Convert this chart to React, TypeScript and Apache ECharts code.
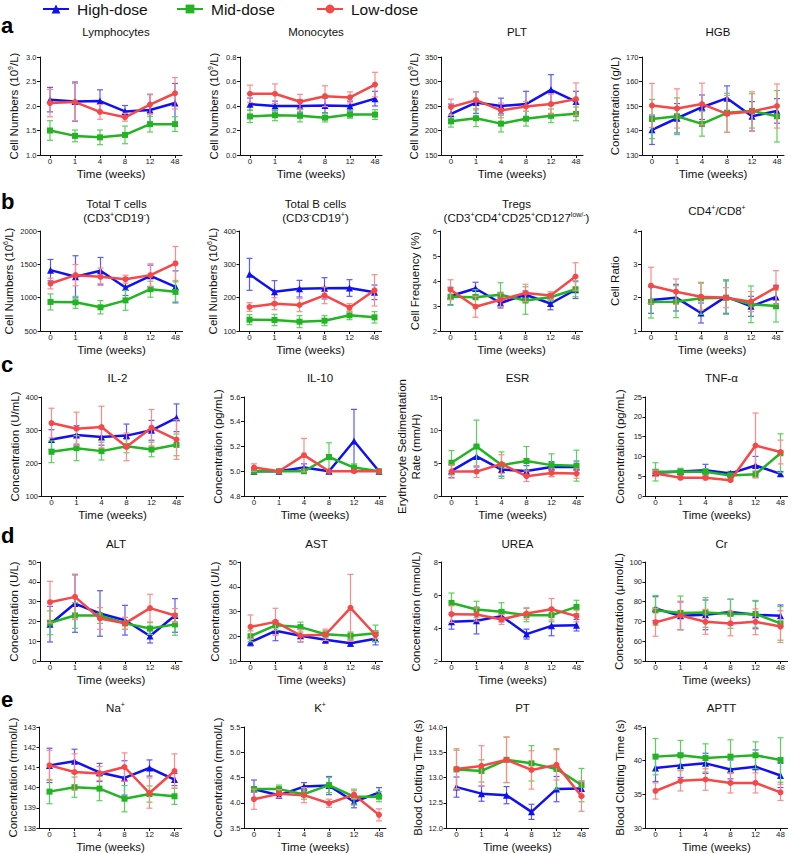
import React, { useEffect, useRef } from 'react';
import * as echarts from 'echarts';

const timeLabels = ['0', '1', '4', '8', '12', '48'];
const groups = ['High-dose', 'Mid-dose', 'Low-dose'];

// ---- Row a ----
const lymphocytesMean = [[2.13, 2.09, 2.10, 1.89, 1.92, 2.06], [1.50, 1.39, 1.36, 1.41, 1.63, 1.63], [2.06, 2.08, 1.88, 1.77, 2.03, 2.26]];
const lymphocytesSD = [[0.25, 0.40, 0.23, 0.12, 0.32, 0.40], [0.20, 0.12, 0.15, 0.18, 0.16, 0.15], [0.28, 0.38, 0.15, 0.08, 0.20, 0.32]];
const monocytesMean = [[0.415, 0.40, 0.40, 0.405, 0.40, 0.46], [0.315, 0.325, 0.32, 0.305, 0.33, 0.33], [0.50, 0.50, 0.435, 0.48, 0.47, 0.575]];
const monocytesSD = [[0.05, 0.04, 0.05, 0.06, 0.04, 0.06], [0.05, 0.045, 0.05, 0.035, 0.03, 0.04], [0.07, 0.08, 0.06, 0.085, 0.045, 0.10]];
const pltMean = [[234, 257, 250, 254, 283, 259], [219, 225, 214, 224, 230, 234], [248, 262, 241, 249, 254, 264]];
const pltSD = [[20, 22, 16, 26, 31, 21], [12, 17, 17, 15, 14, 14], [16, 17, 15, 10, 20, 33]];
const hgbMean = [[140.3, 145, 149.5, 153.2, 145.8, 148], [144.7, 145.8, 142.7, 147.2, 148, 145.8], [150.2, 149, 150.8, 146.8, 147.8, 150]];
const hgbSD = [[6, 6, 5, 5, 6, 5], [8, 7.5, 5, 8, 7, 10.5], [9, 8, 8.5, 7.5, 8, 9]];
// ---- Row b ----
const tCellsMean = [[1413, 1313, 1403, 1152, 1328, 1162], [936, 930, 856, 960, 1127, 1087], [1212, 1338, 1313, 1277, 1338, 1513]];
const tCellsSD = [[160, 316, 200, 120, 160, 240], [120, 90, 100, 150, 120, 150], [80, 160, 130, 60, 170, 255]];
const bCellsMean = [[270, 218, 227, 228, 229, 216], [134, 133, 128, 131, 147, 141], [172, 182, 178, 207, 170, 222]];
const bCellsSD = [[48, 33, 25, 32, 25, 22], [15, 17, 18, 15, 13, 17], [13, 18, 20, 25, 12, 47]];
const tregsMean = [[3.40, 3.70, 3.12, 3.45, 3.10, 3.65], [3.37, 3.35, 3.45, 3.22, 3.35, 3.67], [3.65, 2.97, 3.25, 3.52, 3.42, 4.18]];
const tregsSD = [[0.35, 0.25, 0.20, 0.15, 0.25, 0.35], [0.35, 0.30, 0.48, 0.55, 0.15, 0.30], [0.40, 0.42, 0.27, 0.35, 0.15, 0.55]];
const cd4cd8Mean = [[1.93, 2.00, 1.54, 2.03, 1.74, 2.02], [1.87, 1.88, 1.98, 2.00, 1.80, 1.75], [2.36, 2.18, 2.03, 2.00, 1.88, 2.31]];
const cd4cd8SD = [[0.40, 0.40, 0.30, 0.50, 0.30, 0.35], [0.48, 0.48, 0.48, 0.50, 0.55, 0.48], [0.55, 0.38, 0.40, 0.30, 0.30, 0.50]];
// ---- Row c ----
const il2Mean = [[271, 285, 279, 283, 299, 337], [234, 245, 236, 251, 241, 255], [321, 304, 309, 249, 307, 271]];
const il2SD = [[30, 28, 25, 35, 30, 42], [33, 38, 27, 20, 22, 33], [45, 50, 63, 42, 55, 60]];
const il10Mean = [[5.0, 5.0, 5.03, 5.0, 5.245, 5.0], [5.0, 5.0, 5.0, 5.115, 5.03, 5.0], [5.03, 5.0, 5.13, 5.0, 5.0, 5.0]];
const il10SD = [[0, 0, 0.03, 0, 0.255, 0], [0, 0, 0, 0.115, 0.03, 0], [0.03, 0, 0.135, 0, 0, 0]];
const esrMean = [[3.8, 6.0, 4.0, 3.8, 4.4, 4.4], [5.04, 7.5, 4.68, 5.3, 4.68, 4.6], [3.7, 3.7, 4.85, 3.0, 3.5, 3.4]];
const esrSD = [[1.0, 1.6, 1.0, 0.8, 0.8, 0.9], [1.85, 4.0, 2.0, 2.2, 1.7, 2.35], [1.0, 0.9, 1.4, 0.8, 0.6, 0.7]];
const tnfMean = [[5.9, 6.2, 6.5, 5.7, 7.7, 5.6], [6.1, 6.1, 6.1, 5.2, 5.5, 10.8], [5.7, 4.6, 4.6, 4.0, 12.75, 11.1]];
const tnfSD = [[0.8, 0.6, 1.5, 0.5, 2.3, 0.6], [2.3, 0.9, 0.8, 0.5, 0.8, 4.9], [0.8, 0.4, 0.5, 0.2, 8.2, 3.0]];
// ---- Row d ----
const altMean = [[18.6, 29, 24, 20.6, 12.6, 23], [19.3, 23, 23, 19, 16.4, 18.5], [29.7, 32.4, 21.5, 19, 26.7, 23]];
const altSD = [[9, 14.5, 11.5, 7.5, 3.5, 8.5], [6, 6.5, 4, 3, 3, 5.5], [10.5, 11.5, 5.5, 3, 7, 3.5]];
const astMean = [[17.6, 22.2, 20.2, 18.6, 17.2, 19.0], [20.0, 24.4, 23.7, 20.8, 20.2, 21.2], [23.8, 25.8, 20.3, 20.6, 31.5, 20.5]];
const astSD = [[1.5, 4.0, 2.5, 1.5, 1.3, 2.5], [2.2, 2.0, 2.0, 1.5, 1.5, 3.3], [4.8, 5.5, 2.5, 2.3, 13.5, 1.5]];
const ureaMean = [[4.38, 4.44, 4.72, 3.63, 4.13, 4.17], [5.52, 5.12, 4.98, 4.78, 4.78, 5.28], [4.84, 4.82, 4.52, 4.88, 5.14, 4.72]];
const ureaSD = [[0.45, 0.8, 0.35, 0.3, 0.6, 0.35], [0.6, 0.5, 0.55, 0.4, 0.4, 0.4], [0.5, 0.4, 0.3, 0.35, 0.65, 0.35]];
const crMean = [[76.5, 72.8, 73.3, 74.7, 73.3, 72.8], [75.6, 74.3, 74.5, 73.8, 73.8, 69.0], [69.5, 73.0, 69.8, 69.0, 69.8, 67.4]];
const crSD = [[6, 7, 7.5, 6.5, 7, 5.5], [7.5, 8.5, 7.5, 7.3, 6.8, 8.5], [7, 7.2, 6.3, 6.3, 6.5, 8]];
// ---- Row e ----
const naMean = [[141.1, 141.3, 140.75, 140.48, 140.97, 140.4], [139.8, 140.02, 139.95, 139.45, 139.68, 139.57], [141.1, 140.77, 140.7, 141.02, 139.73, 140.82]];
const naSD = [[0.85, 0.6, 0.45, 0.85, 0.4, 0.3], [0.6, 0.5, 0.6, 0.65, 0.4, 0.4], [0.75, 0.9, 0.35, 0.7, 0.75, 0.85]];
const kMean = [[4.27, 4.15, 4.32, 4.34, 4.02, 4.2], [4.27, 4.27, 4.17, 4.35, 4.12, 4.12], [4.07, 4.18, 4.15, 3.99, 4.16, 3.76]];
const kSD = [[0.18, 0.05, 0.08, 0.18, 0.12, 0.1], [0.05, 0.08, 0.1, 0.15, 0.15, 0.1], [0.2, 0.08, 0.15, 0.08, 0.08, 0.12]];
const ptMean = [[12.81, 12.68, 12.65, 12.32, 12.77, 12.78], [13.16, 13.13, 13.35, 13.28, 13.17, 12.85], [13.17, 13.23, 13.35, 13.15, 13.25, 12.63]];
const ptSD = [[0.2, 0.15, 0.17, 0.15, 0.25, 0.15], [0.38, 0.22, 0.45, 0.35, 0.4, 0.33], [0.4, 0.4, 0.45, 0.38, 0.3, 0.3]];
const apttMean = [[38.9, 39.3, 39.6, 38.7, 39.1, 37.8], [40.6, 40.8, 40.4, 40.6, 40.8, 40.1], [35.5, 37.0, 37.2, 36.7, 36.7, 35.3]];
const apttSD = [[2.0, 1.8, 1.5, 1.4, 2.5, 1.8], [2.7, 2.2, 2.1, 2.5, 2.0, 3.3], [1.2, 1.5, 1.6, 1.5, 1.5, 1.2]];

const panelTitles = [
  'Lymphocytes', 'Monocytes', 'PLT', 'HGB',
  'Total T cells\n(CD3{sup|+}CD19{sup|-})', 'Total B cells\n(CD3{sup|-}CD19{sup|+})', 'Tregs\n(CD3{sup|+}CD4{sup|+}CD25{sup|+}CD127{sup|low/-})', 'CD4{sup|+}/CD8{sup|+}',
  'IL-2', 'IL-10', 'ESR', 'TNF-α',
  'ALT', 'AST', 'UREA', 'Cr',
  'Na{sup|+}', 'K{sup|+}', 'PT', 'APTT',
];
const yNames = [
  'Cell Numbers (10{sup|9}/L)', 'Cell Numbers (10{sup|9}/L)', 'Cell Numbers (10{sup|9}/L)', 'Concentration (g/L)',
  'Cell Numbers (10{sup|6}/L)', 'Cell Numbers (10{sup|6}/L)', 'Cell Frequency (%)', 'Cell Ratio',
  'Concentration (U/mL)', 'Concentration (pg/mL)', 'Erythrocyte Sedimentation\nRate (mm/H)', 'Concentration (pg/mL)',
  'Concentration (U/L)', 'Concentration (U/L)', 'Concentration (mmol/L)', 'Concentration (μmol/L)',
  'Concentration (mmol/L)', 'Concentration (mmol/L)', 'Blood Clotting Time (s)', 'Blood Clotting Time (s)',
];
// y axis: [min, max, interval, decimals]
const yScales = [
  [1, 3, 0.5, 1], [0, 0.8, 0.2, 1], [150, 350, 50, 0], [130, 170, 10, 0],
  [500, 2000, 500, 0], [100, 400, 100, 0], [2, 6, 1, 0], [1, 4, 1, 0],
  [100, 400, 100, 0], [4.8, 5.6, 0.2, 1], [0, 15, 5, 0], [0, 25, 5, 0],
  [0, 50, 10, 0], [10, 50, 10, 0], [2, 8, 2, 0], [50, 100, 10, 0],
  [138, 143, 1, 0], [3.5, 5.5, 0.5, 1], [12, 14, 0.5, 1], [30, 45, 5, 0],
];
const means = [lymphocytesMean, monocytesMean, pltMean, hgbMean, tCellsMean, bCellsMean, tregsMean, cd4cd8Mean, il2Mean, il10Mean, esrMean, tnfMean, altMean, astMean, ureaMean, crMean, naMean, kMean, ptMean, apttMean];
const sds = [lymphocytesSD, monocytesSD, pltSD, hgbSD, tCellsSD, bCellsSD, tregsSD, cd4cd8SD, il2SD, il10SD, esrSD, tnfSD, altSD, astSD, ureaSD, crSD, naSD, kSD, ptSD, apttSD];
const rowLetters = ['a', 'b', 'c', 'd', 'e'];

// layout
const FONT = '"Liberation Sans", Arial, Helvetica, sans-serif';
const rowTop = [57, 231, 397, 562, 727];
const rowH = [98, 100, 99, 99, 101];
const axisX = [
  [40, 240, 441, 642],
  [40.5, 239.5, 440.5, 641],
  [41.5, 244, 441.5, 645.5],
  [40, 240.5, 441.5, 645.5],
  [39.5, 244, 446.5, 645.5],
];
const titleY = [32, 211, 378, 544, 708];
const letterY = [25, 201, 364, 535, 699];
const PLOT_W = 142;
const STEP = 25;
const X_MIN = -10 / STEP;
const X_MAX = (PLOT_W - 10) / STEP;
const lineColors = ['#1010f2', '#22b422', '#f54848'];
const errColors = ['#5a5aff', '#5cd05c', '#ff8a8a'];
const symbols = ['triangle', 'rect', 'circle'];
const symbolSizes = [7, 6, 6];
const TXT = '#111';

const supRich = { sup: { fontSize: 7, fontFamily: FONT, fontWeight: 'normal', color: TXT, fill: TXT, verticalAlign: 'top' } };

const makeErr = (color: string) => (params: any, api: any) => {
  const x = api.value(0);
  const m = api.value(1);
  const e = api.value(2);
  if (!e) return { type: 'group', children: [] };
  const hi = api.coord([x, m + e]);
  const lo = api.coord([x, m - e]);
  const w = 3;
  const style = { stroke: color, lineWidth: 1.2, fill: 'none' };
  return {
    type: 'group',
    children: [
      { type: 'line', shape: { x1: hi[0], y1: hi[1], x2: lo[0], y2: lo[1] }, style },
      { type: 'line', shape: { x1: hi[0] - w, y1: hi[1], x2: hi[0] + w, y2: hi[1] }, style },
      { type: 'line', shape: { x1: lo[0] - w, y1: lo[1], x2: lo[0] + w, y2: lo[1] }, style },
    ],
  };
};

function buildOption() {
  const grid: any[] = [];
  const xAxis: any[] = [];
  const yAxis: any[] = [];
  const series: any[] = [];
  const graphic: any[] = [];
  const ticks = [0, 1, 2, 3, 4, 5];

  for (let k = 0; k < 20; k++) {
    const r = Math.floor(k / 4);
    const c = k % 4;
    const left = axisX[r][c];
    const [ymin, ymax, yint, dec] = yScales[k];
    grid.push({ left, top: rowTop[r], width: PLOT_W, height: rowH[r] });
    xAxis.push({
      type: 'value', gridIndex: k, min: X_MIN, max: X_MAX,
      name: 'Time (weeks)', nameLocation: 'middle', nameGap: 13,
      nameTextStyle: { fontFamily: FONT, fontSize: 11.5, fontWeight: 'normal', color: TXT },
      axisLine: { onZero: false, lineStyle: { color: TXT, width: 1 } },
      axisTick: { show: true, length: 3, customValues: ticks, lineStyle: { color: TXT } },
      axisLabel: { customValues: ticks, formatter: (v: number) => timeLabels[Math.round(v)], fontSize: 8, margin: 2.5, color: '#222', fontFamily: FONT },
      splitLine: { show: false },
    });
    yAxis.push({
      type: 'value', gridIndex: k, min: ymin, max: ymax, interval: yint,
      name: yNames[k], nameLocation: 'middle', nameGap: 19,
      nameTextStyle: { fontFamily: FONT, fontSize: 11.5, fontWeight: 'normal', color: TXT, lineHeight: 14, rich: supRich },
      axisLine: { show: true, onZero: false, lineStyle: { color: TXT, width: 1 } },
      axisTick: { show: true, length: 3, lineStyle: { color: TXT } },
      axisLabel: { formatter: (v: number) => v.toFixed(dec), fontSize: 7.5, margin: 3.5, color: '#222', fontFamily: FONT },
      splitLine: { show: false },
    });
    for (let g = 0; g < 3; g++) {
      series.push({
        type: 'custom', name: 'err-' + groups[g], xAxisIndex: k, yAxisIndex: k,
        data: means[k][g].map((m, i) => [i, m, sds[k][g][i]]),
        encode: { x: 0, y: 1 }, renderItem: makeErr(errColors[g]), z: 2 + g * 2, silent: true, clip: false,
      });
    }
    for (let g = 0; g < 3; g++) {
      series.push({
        type: 'line', name: groups[g], xAxisIndex: k, yAxisIndex: k,
        data: means[k][g].map((m, i) => [i, m]),
        symbol: symbols[g], symbolSize: symbolSizes[g],
        lineStyle: { color: lineColors[g], width: 2.5 },
        itemStyle: { color: lineColors[g] },
        z: 3 + g * 2, silent: true,
      });
    }
    graphic.push({
      type: 'text', x: left + PLOT_W / 2 + 5, y: titleY[r],
      style: {
        text: panelTitles[k], align: 'center', verticalAlign: 'middle',
        fontFamily: FONT, fontSize: 11.5, fontWeight: 'normal', fill: TXT, lineHeight: 14, rich: supRich,
      },
    });
  }
  rowLetters.forEach((L, r) => {
    graphic.push({
      type: 'text', x: 1, y: letterY[r],
      style: { text: L, verticalAlign: 'middle', fontFamily: FONT, fontSize: 22, fontWeight: 'bold', fill: '#000' },
    });
  });

  const legendLeft = [37, 171, 311];
  const legend = groups.map((g, i) => ({
    data: [g], left: legendLeft[i], top: -4, itemWidth: 26, itemHeight: 11, selectedMode: false,
    textStyle: { fontSize: 15.5, fontFamily: FONT, fontWeight: 'normal', color: TXT, padding: [0, 0, 0, 3] },
  }));

  return {
    animation: false,
    backgroundColor: '#fff',
    legend, grid, xAxis, yAxis, series, graphic,
  };
}

export default function App() {
  const ref = useRef<HTMLDivElement>(null);
  useEffect(() => {
    if (!ref.current) return;
    const chart = echarts.init(ref.current, undefined, { renderer: 'svg' });
    chart.setOption(buildOption() as any);
    return () => chart.dispose();
  }, []);
  return <div ref={ref} style={{ position: 'fixed', left: 0, top: 0, width: 800, height: 854, background: '#fff' }} />;
}
